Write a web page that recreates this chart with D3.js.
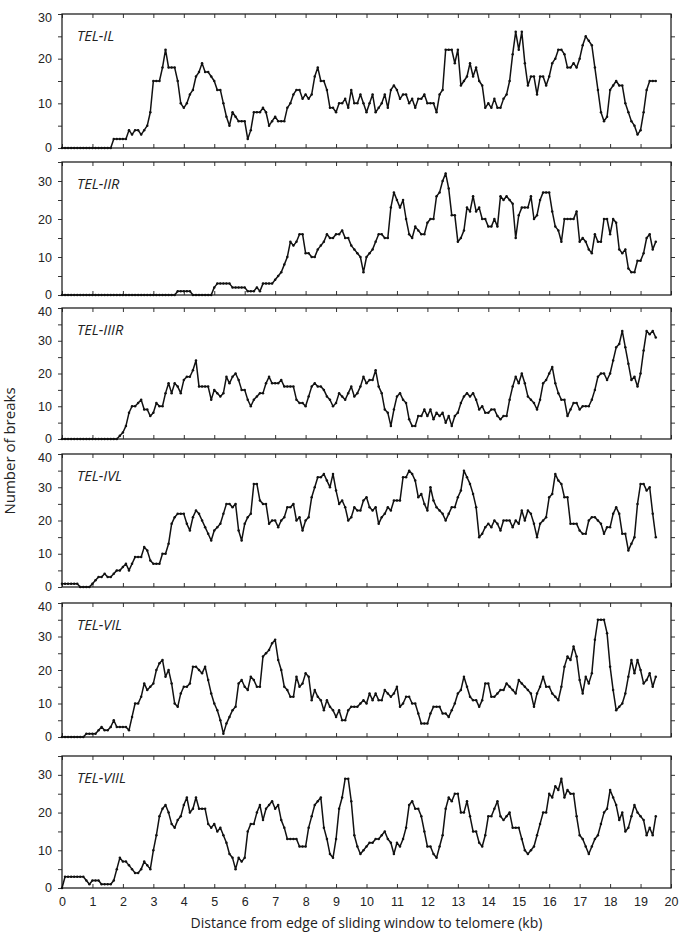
<!DOCTYPE html>
<html>
<head>
<meta charset="utf-8">
<script src="https://d3js.org/d3.v7.min.js"></script>
<style>
body {
  margin: 0;
  background: #fff;
  font-family: "Open Sans", "Noto Sans", sans-serif;
  color: #222;
}
.tick text { font-size: 12.5px; fill: #222; }
.panel-label { font-size: 14.5px; font-style: italic; fill: #222; }
.axis-title { font-size: 14px; fill: #222; }
.y-title { font-size: 15px; fill: #222; }
</style>
</head>
<body>
<div id="chart"></div>
<script>
// telomere names, one panel each
var names = ["TEL-IL", "TEL-IIR", "TEL-IIIR", "TEL-IVL", "TEL-VIL", "TEL-VIIL"];
var yMax = [30, 35, 40, 40, 40, 35];
var xTicks = d3.range(0, 21, 1);

// number of breaks, one value every 0.1 kb from 0 to 19.5
var telIL = [
  0,0,0,0,0,0,0,0,0,0, 0,0,0,0,0,0,0,2,2,2, 2,2,4,3,4,4,3,4,5,8,
  15,15,15,18,22,18,18,18,15,10, 9,10,12,13,16,17,19,17,17,16,
  15,13,13,10,7,5,8,7,6,6, 6,2,4,8,8,8,9,8,5,6, 7,6,6,6,9,10,12,13,13,11,
  12,11,12,16,18,15,15,13,9,9, 8,10,10,11,9,13,10,10,12,10,
  8,10,12,8,9,10,12,9,13,14, 13,11,12,12,10,11,9,11,11,12,
  10,10,10,8,12,13,22,22,22,19, 22,14,15,16,19,16,18,15,14,9,
  10,9,11,9,9,11,12,15,21,26, 22,26,19,14,16,16,12,16,16,14,
  16,19,20,22,22,21,18,18,19,18, 20,23,25,24,23,18,13,8,6,7,
  13,14,15,14,14,10,8,6,5,3, 4,8,13,15,15,15
];
var telIIR = [
  0,0,0,0,0,0,0,0,0,0, 0,0,0,0,0,0,0,0,0,0, 0,0,0,0,0,0,0,0,0,0,
  0,0,0,0,0,0,0,0,1,1, 1,1,1,0,0,0,0,0,0,0,
  2,3,3,3,3,3,2,2,2,2, 2,1,1,1,2,1,3,3,3,3, 4,5,6,8,10,14,13,14,16,16,
  11,11,10,10,12,13,14,16,15,15, 16,16,17,15,15,13,12,11,10,6,
  10,11,12,14,16,16,15,15,23,27, 25,23,25,20,16,15,18,17,16,16,
  19,20,20,26,27,30,32,28,21,21, 14,15,17,23,22,26,22,23,20,20,
  18,18,20,18,26,25,26,25,24,15, 21,23,23,23,26,20,21,25,27,27,
  27,22,18,17,14,20,20,20,20,22, 14,15,14,12,11,16,14,14,20,20,
  16,20,19,12,11,12,7,6,6,9, 9,11,15,16,12,14
];
var telIIIR = [
  0,0,0,0,0,0,0,0,0,0, 0,0,0,0,0,0,0,0,0,1, 2,4,8,10,10,11,12,9,9,7,
  8,11,10,10,14,17,14,17,16,14, 18,19,19,21,24,16,16,16,16,12,
  15,14,13,14,19,17,19,20,18,15, 15,12,10,12,13,14,14,17,19,17,
  17,17,18,16,16,16,16,12,11,11, 10,13,16,17,16,16,15,13,12,10,
  11,14,13,12,14,16,13,14,16,19, 17,18,18,21,16,14,9,8,4,9,
  13,14,12,11,6,4,4,7,7,9, 7,9,6,8,7,8,5,7,4,7,
  8,11,13,14,13,14,12,9,10,8, 8,9,9,7,6,7,7,12,16,19,
  17,20,17,13,12,11,9,12,17,18, 20,22,17,14,12,12,7,9,11,11,
  9,10,10,10,12,15,19,20,20,18, 20,24,28,29,33,28,23,18,19,16,
  20,27,33,32,33,31
];
var telIVL = [
  1,1,1,1,1,1,0,0,0,0, 1,2,3,3,4,3,3,4,5,5, 6,7,5,7,9,9,9,12,11,8,
  7,7,7,10,10,13,19,21,22,22, 22,19,17,21,23,22,20,18,16,14,
  17,18,19,22,25,25,24,25,17,14, 19,21,22,31,31,26,25,25,19,20,
  20,18,20,21,24,24,25,20,21,17, 20,21,27,30,33,33,34,32,30,34,
  29,25,26,24,20,21,24,23,23,26, 27,24,23,24,19,21,22,24,23,26,
  26,26,33,33,35,34,32,27,28,25, 23,30,26,24,23,22,20,22,24,24,
  27,29,35,33,31,28,24,15,16,18, 19,18,20,19,17,20,20,20,18,20,
  19,23,20,23,22,19,15,19,20,21, 27,28,34,32,31,27,27,19,19,19,
  17,16,16,20,21,21,20,19,16,18, 18,22,24,22,16,16,11,13,15,25,
  31,31,29,30,22,15
];
var telVIL = [
  0,0,0,0,0,0,0,0,1,1, 1,1,2,3,2,2,3,5,3,3, 3,3,2,6,10,10,12,16,14,15,
  16,20,22,23,18,20,16,10,9,13, 15,15,16,21,21,20,19,21,17,13,
  10,8,5,1,4,6,8,9,16,17, 15,14,18,17,15,15,24,25,26,28,
  29,23,20,15,14,12,12,18,15,16, 19,18,11,14,12,11,8,11,9,8,
  6,8,5,5,8,9,9,9,10,11, 10,13,11,13,11,11,14,13,12,13,
  15,9,10,12,12,10,10,7,4,4, 4,7,9,9,9,7,7,6,8,10,
  13,14,18,15,12,11,11,9,11,16, 16,12,12,13,14,14,16,15,14,13,
  17,16,15,14,13,9,13,15,18,15, 15,13,12,11,15,21,24,23,27,24,
  17,13,18,16,19,29,35,35,35,31, 21,14,8,9,10,13,18,23,19,23,
  20,16,17,19,15,18
];
var telVIIL = [
  0,3,3,3,3,3,3,3,2,1, 2,2,2,1,1,1,1,2,5,8, 7,7,6,5,4,4,5,7,6,5,
  10,14,19,21,22,20,17,16,18,19, 22,24,20,21,24,21,21,21,17,16,
  17,15,16,14,12,9,8,5,8,7, 8,15,17,17,20,22,18,21,22,23,
  21,22,18,16,13,13,13,13,11,11, 11,16,19,22,23,24,16,13,9,8,
  13,21,24,29,29,23,14,11,9,10, 11,12,12,13,13,14,15,13,12,9,
  12,11,13,16,22,23,21,21,19,15, 11,11,9,8,11,14,21,24,23,25,
  25,20,20,23,19,15,15,12,11,14, 19,19,21,23,19,18,19,20,16,16,
  16,13,10,9,10,11,14,17,20,20, 25,24,27,26,29,24,26,25,25,19,
  14,13,11,9,11,13,14,17,20,21, 26,24,22,18,20,15,16,19,22,20,
  19,18,14,16,14,19
];
var series = [telIL, telIIR, telIIIR, telIVL, telVIL, telVIIL];

//___________________________________________________________
var WIDTH = 685, HEIGHT = 944;
var left = 62, right = 671;
var panelTop = [14, 162, 308, 454, 603, 756];
var panelBottom = [148, 295, 439, 587, 737, 888];

var svg = d3.select("#chart").append("svg")
  .attr("width", WIDTH)
  .attr("height", HEIGHT);

var x = d3.scaleLinear().domain([0, 20]).range([left, right]);

series.forEach(function(vals, k) {
  var y = d3.scaleLinear().domain([0, yMax[k]]).range([panelBottom[k], panelTop[k]]);
  var g = svg.append("g");
  var pts = vals.map(function(v, i) { return [i / 10, v]; });

  // y axis, labels every 10, ticks every 5
  var yTicks = d3.range(0, yMax[k] + 0.1, 5);
  g.append("g")
    .attr("transform", "translate(" + left + ",0)")
    .call(d3.axisLeft(y).tickValues(yTicks).tickSize(4).tickPadding(6)
      .tickFormat(function(d) { return d % 10 === 0 ? d : ""; }))
    .call(function(a) {
      a.select(".domain").remove();
      a.selectAll("line").attr("stroke", "#333");
      // keep the top label clear of the panel above
      a.selectAll(".tick text")
        .attr("transform", function(d) { return d === yMax[k] ? "translate(0,3)" : (d === 0 ? "translate(0,-1)" : null); });
    });
  g.append("g")
    .attr("transform", "translate(" + right + ",0)")
    .call(d3.axisLeft(y).tickValues(yTicks.filter(function(d) { return d > 0 && d < yMax[k]; })).tickSize(-4).tickFormat(""))
    .call(function(a) { a.select(".domain").remove(); a.selectAll("line").attr("stroke", "#333"); });

  // x ticks on top and bottom, pointing in
  g.append("g")
    .attr("transform", "translate(0," + panelBottom[k] + ")")
    .call(d3.axisBottom(x).tickValues(xTicks).tickSize(-4)
      .tickFormat(k === 5 ? d3.format("d") : ""))
    .call(function(a) {
      a.select(".domain").remove();
      a.selectAll("line").attr("stroke", "#333");
      a.selectAll("text").attr("dy", "1.2em");
    });
  g.append("g")
    .attr("transform", "translate(0," + panelTop[k] + ")")
    .call(d3.axisTop(x).tickValues(xTicks).tickSize(-4).tickFormat(""))
    .call(function(a) { a.select(".domain").remove(); a.selectAll("line").attr("stroke", "#333"); });

  g.append("rect")
    .attr("x", left).attr("y", panelTop[k])
    .attr("width", right - left).attr("height", panelBottom[k] - panelTop[k])
    .attr("fill", "none").attr("stroke", "#222").attr("stroke-width", 1.3);

  var line = d3.line()
    .x(function(d) { return x(d[0]); })
    .y(function(d) { return y(d[1]); });

  g.append("path")
    .datum(pts)
    .attr("d", line)
    .attr("fill", "none")
    .attr("stroke", "#111")
    .attr("stroke-width", 1.5)
    .attr("stroke-linejoin", "round");

  g.selectAll("circle")
    .data(pts)
    .enter().append("circle")
    .attr("cx", function(d) { return x(d[0]); })
    .attr("cy", function(d) { return y(d[1]); })
    .attr("r", 1.25)
    .attr("fill", "#111");

  g.append("text")
    .attr("class", "panel-label")
    .attr("x", left + 15)
    .attr("y", panelTop[k] + 27)
    .text(names[k]);
});

svg.append("text")
  .attr("class", "y-title")
  .attr("transform", "translate(15," + (panelTop[0] + panelBottom[5]) / 2 + ") rotate(-90)")
  .attr("text-anchor", "middle")
  .text("Number of breaks");

svg.append("text")
  .attr("class", "axis-title")
  .attr("x", (left + right) / 2)
  .attr("y", 928)
  .attr("text-anchor", "middle")
  .text("Distance from edge of sliding window to telomere (kb)");
</script>
</body>
</html>
